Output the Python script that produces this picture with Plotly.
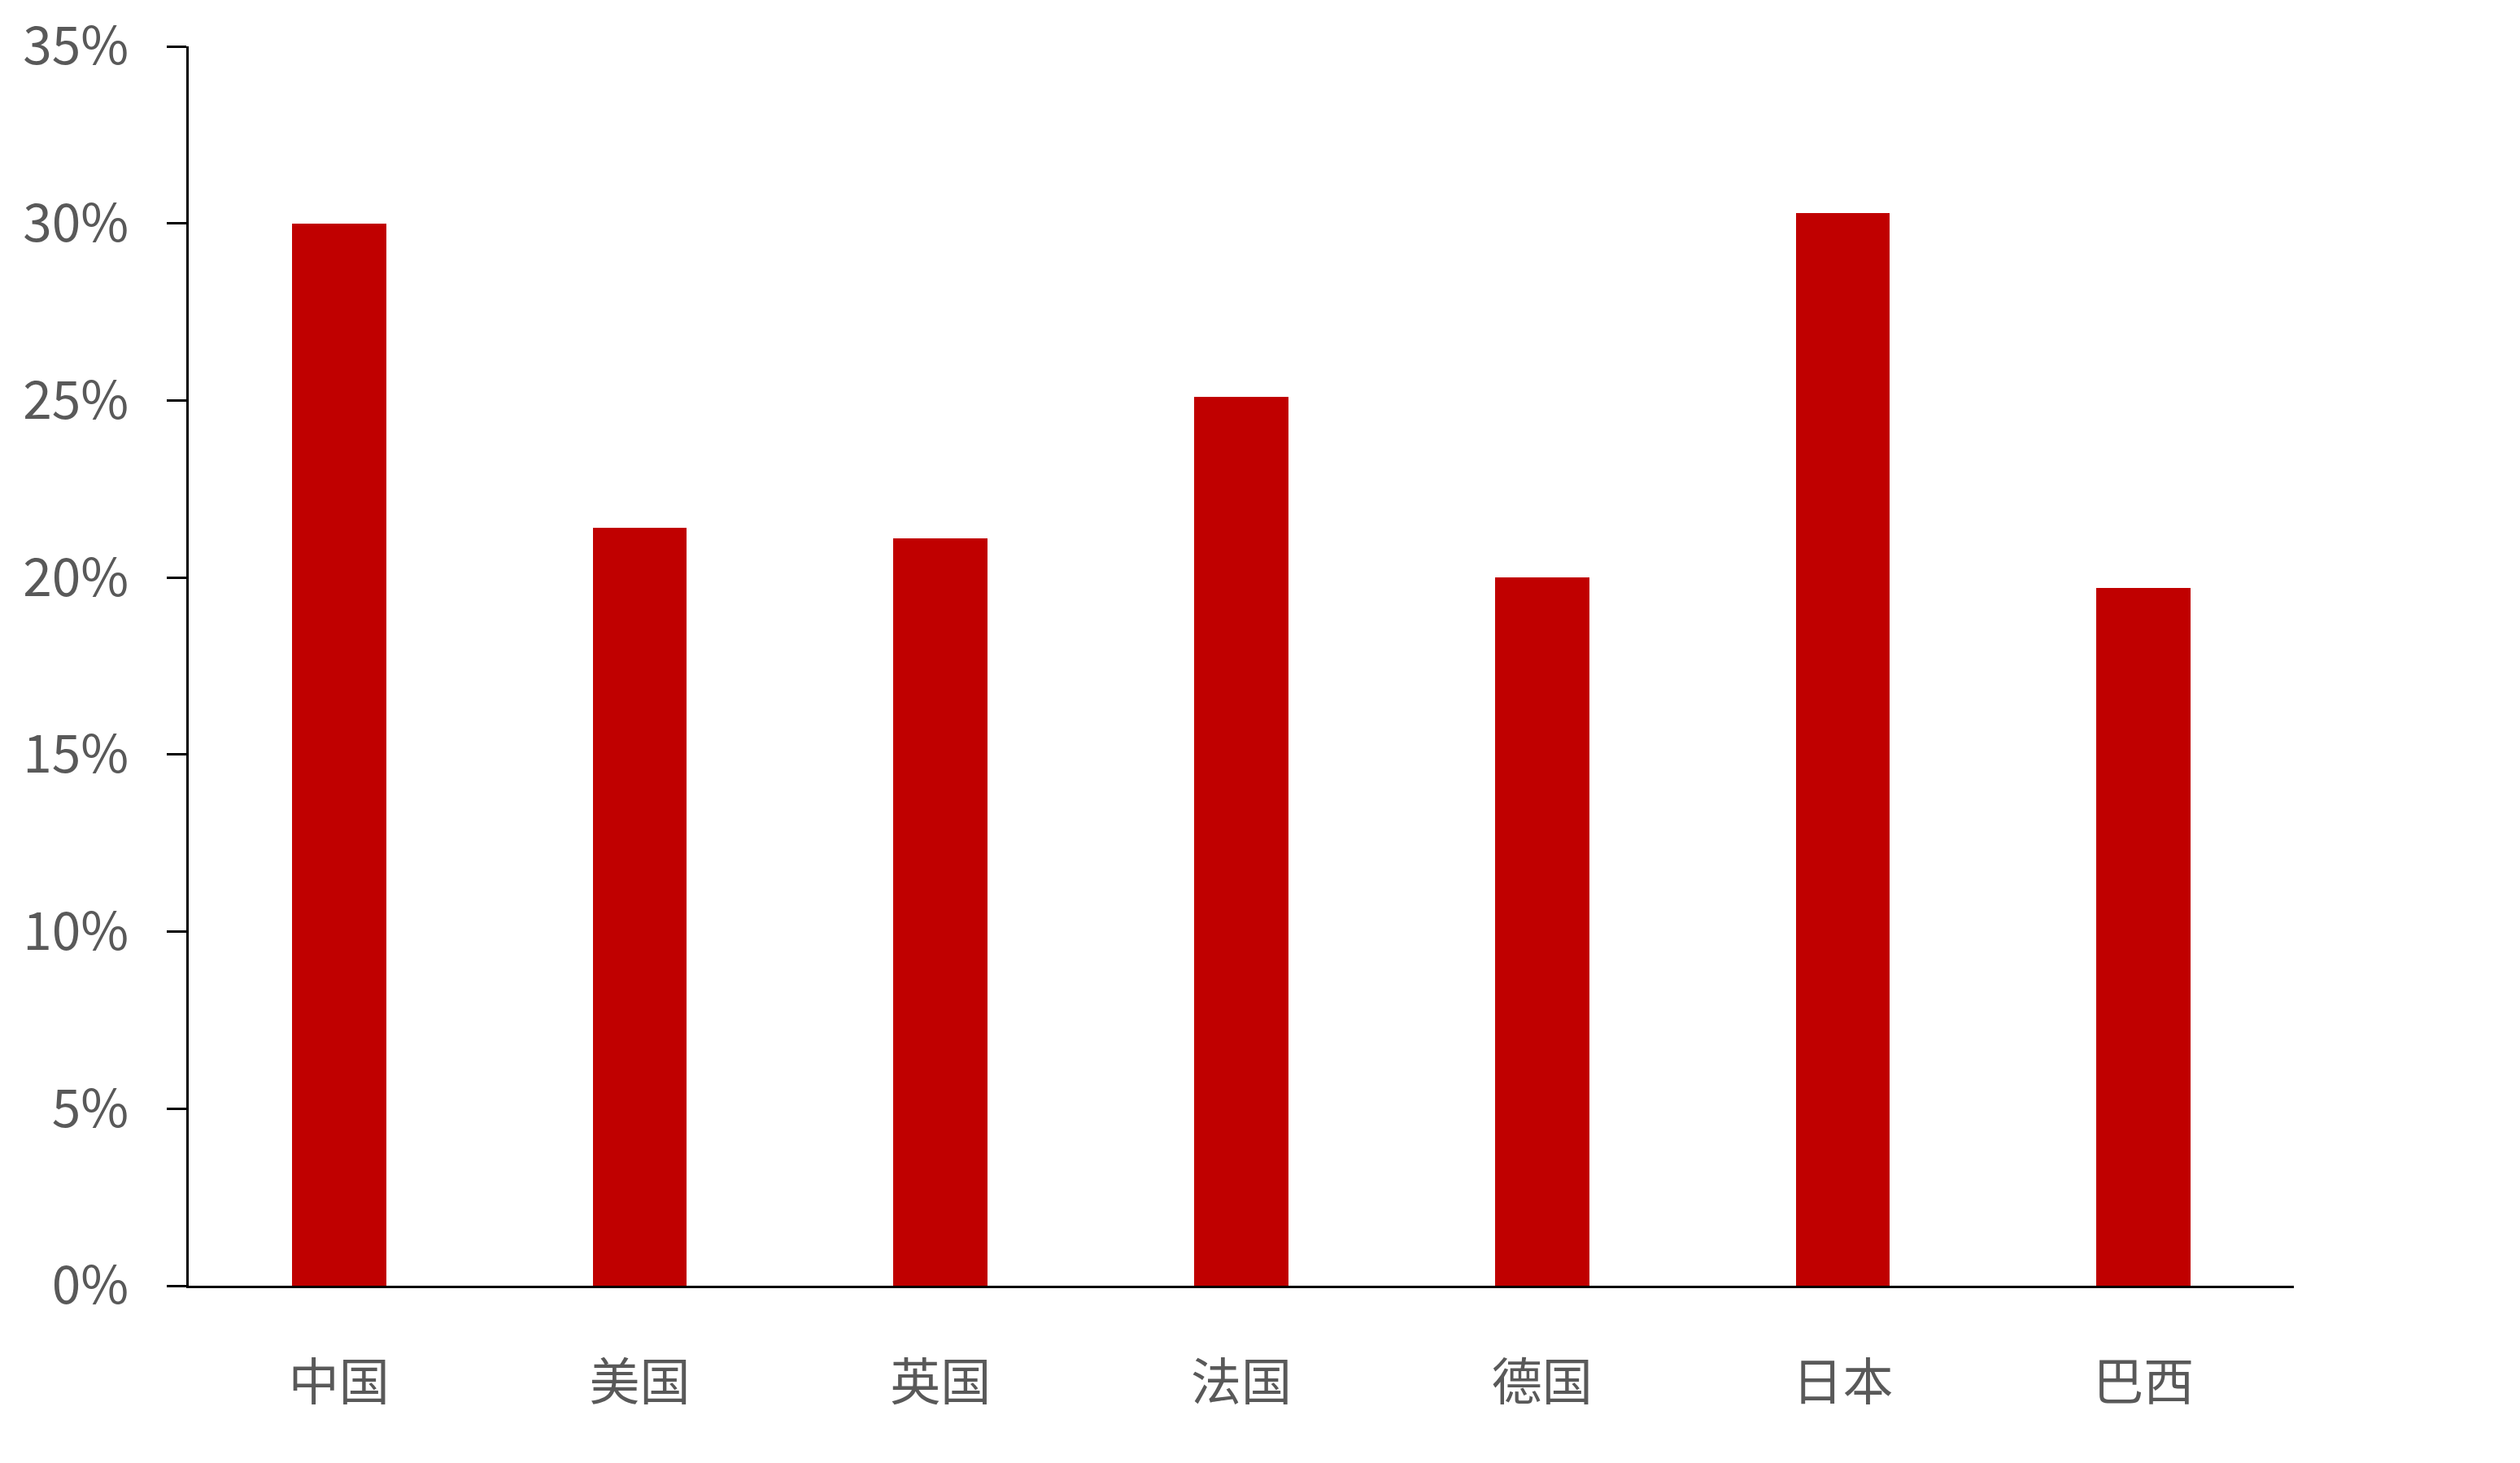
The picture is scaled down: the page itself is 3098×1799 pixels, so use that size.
import plotly.graph_objects as go

countries = ["中国", "美国", "英国", "法国", "德国", "日本", "巴西"]
shares = [0.300, 0.214, 0.211, 0.251, 0.200, 0.303, 0.197]
y_ticks = [0, 0.05, 0.10, 0.15, 0.20, 0.25, 0.30, 0.35]

fig = go.Figure()
fig.add_trace(go.Bar(
    x=countries, y=shares, width=0.313,
    marker=dict(color="#C00000", line=dict(width=0)),
    showlegend=False,
))

# page body has an 8px margin; compensate so the plot lands where the reference has it
BM = 8
W, H = 3098 - 2 * BM, 1799 - 2 * BM
L, R, T, B = 232 - BM, 278 - BM, 57 - BM, 218 - BM

fig.update_layout(
    width=W, height=H,
    margin=dict(l=L, r=R, t=T, b=B, pad=0, autoexpand=False),
    paper_bgcolor="white", plot_bgcolor="white",
    font=dict(family="Noto Sans CJK SC", size=64, color="#595959"),
    bargap=0,
)
fig.update_xaxes(
    type="category", range=[-0.5, 6.5],
    showline=True, linecolor="black", linewidth=3,
    ticks="", showgrid=False, zeroline=False,
    tickfont=dict(size=62, color="#595959"),
    ticklabelstandoff=64,
    ticklabeloverflow="allow", automargin=False,
)
fig.update_yaxes(
    range=[0, 0.35], tickvals=y_ticks, tickformat=".0%",
    showline=True, linecolor="black", linewidth=3,
    ticks="outside", ticklen=24, tickwidth=3, tickcolor="black",
    showgrid=False, zeroline=False,
    tickfont=dict(size=64, color="#595959"),
    ticklabelstandoff=34,
    ticklabeloverflow="allow", automargin=False,
)
fig.write_html("out.html")
